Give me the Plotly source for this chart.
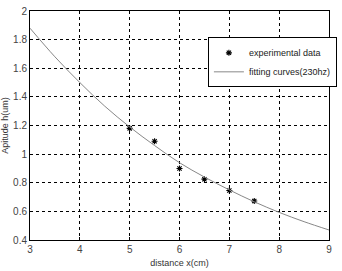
import plotly.graph_objects as go

exp_x = [5, 5.5, 6, 6.5, 7, 7.5]
exp_y = [1.18, 1.09, 0.90, 0.825, 0.746, 0.673]

fit_x = [3, 3.5, 4, 4.5, 5, 5.5, 6, 6.5, 7, 7.5, 8, 8.5, 9]
fit_y = [1.88, 1.68, 1.50, 1.335, 1.19, 1.06, 0.94, 0.84, 0.75, 0.667, 0.593, 0.528, 0.47]

x_ticks = [3, 4, 5, 6, 7, 8, 9]
y_ticks = [0.4, 0.6, 0.8, 1, 1.2, 1.4, 1.6, 1.8, 2]
y_labels = ["0.4", "0.6", "0.8", "1", "1.2", "1.4", "1.6", "1.8", "2"]

fig = go.Figure()
fig.add_trace(go.Scatter(
    x=exp_x, y=exp_y, mode="markers", name="experimental data",
    marker=dict(symbol="asterisk-open", size=5, color="black",
                line=dict(color="black", width=1.1)),
))
fig.add_trace(go.Scatter(
    x=fit_x, y=fit_y, mode="lines", name="fitting curves(230hz)",
    line=dict(color="#888888", width=1, shape="spline"),
))

axis_common = dict(
    showgrid=True, gridcolor="black", griddash="dot", gridwidth=1,
    showline=True, linecolor="black", linewidth=1, mirror=True,
    ticks="inside", ticklen=3, tickcolor="black",
    zeroline=False,
    tickfont=dict(family="Liberation Sans, Arial", size=10, color="#444444"),
)

fig.update_layout(
    width=342, height=271,
    margin=dict(l=29, r=6, t=5, b=23),
    paper_bgcolor="white", plot_bgcolor="white",
    showlegend=True,
    legend=dict(
        x=0.595, y=0.885, xanchor="left", yanchor="top",
        bgcolor="white", bordercolor="black", borderwidth=1,
        font=dict(family="Liberation Sans, Arial", size=9, color="#222222"),
        tracegroupgap=0, itemwidth=30,
    ),
    xaxis=dict(
        range=[3, 9], tickvals=x_ticks,
        title=dict(text="distance x(cm)", standoff=5,
                   font=dict(family="Liberation Sans, Arial", size=9, color="#333333")),
        **axis_common,
    ),
    yaxis=dict(
        range=[0.4, 2], tickvals=y_ticks, ticktext=y_labels,
        title=dict(text="Apitude h(um)", standoff=2,
                   font=dict(family="Liberation Sans, Arial", size=9, color="#333333")),
        **axis_common,
    ),
)

fig.write_html("out.html")
